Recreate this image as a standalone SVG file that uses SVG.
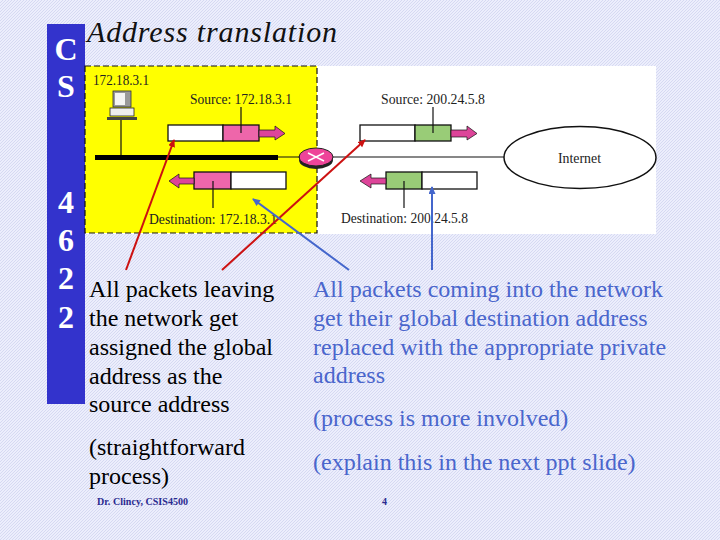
<svg xmlns="http://www.w3.org/2000/svg" width="720" height="540" viewBox="0 0 720 540">
<style>
.s{font-family:"Liberation Serif",serif}
.side{font-size:32px;font-weight:bold;fill:#fff;text-anchor:middle}
.lab{font-size:15px;fill:#222}
.blk{font-size:24px;fill:#000}
.blu{font-size:24px;fill:#4a66cc}
.foot{font-size:10px;font-weight:bold;fill:#2a2a90}
.box{stroke:#111;stroke-width:1.3}
.w{fill:#fff}.p{fill:#ee66aa}.g{fill:#99cc77}
.ln{stroke:#111;stroke-width:1.2;fill:none}
.ar{fill:#dd4499;stroke:#111;stroke-width:.7}
.red{stroke:#cc1111;stroke-width:2;fill:none;marker-end:url(#rh)}
.bl{stroke:#4466cc;stroke-width:2;fill:none;marker-end:url(#bh)}
</style>
<defs>
<pattern id="hatch" width="3" height="3" patternUnits="userSpaceOnUse">
<rect width="3" height="3" fill="#eceefc"/>
<path d="M-1 1L1 -1M0 3L3 0M2 4L4 2" stroke="#d6d9f2" stroke-width="1"/>
</pattern>
<marker id="rh" markerWidth="9" markerHeight="8" refX="7" refY="3.500" orient="auto" markerUnits="userSpaceOnUse"><path d="M0 0L8 3.500L0 7Z" fill="#cc1111"/></marker>
<marker id="bh" markerWidth="9" markerHeight="8" refX="7" refY="3.500" orient="auto" markerUnits="userSpaceOnUse"><path d="M0 0L8 3.500L0 7Z" fill="#4466cc"/></marker>
</defs>
<rect width="720" height="540" fill="url(#hatch)"/>
<g id="sidebar">
<rect x="47" y="24" width="38" height="380" fill="#3333cc"/>
<text class="s side" x="66" y="60">C</text>
<text class="s side" x="66" y="97">S</text>
<text class="s side" x="66" y="213">4</text>
<text class="s side" x="66" y="251">6</text>
<text class="s side" x="66" y="289">2</text>
<text class="s side" x="66" y="328">2</text>
</g>
<text id="title" class="s" x="87" y="42" font-size="30" font-style="italic" textLength="250" fill="#111">Address translation</text>
<g id="panel">
<rect x="85" y="66" width="571" height="168" fill="#fff"/>
<rect x="85" y="66" width="232" height="167" fill="#ffff00" stroke="#111" stroke-width="1.2" stroke-dasharray="6 3"/>
</g>
<g id="host">
<text class="s lab" x="93" y="85" textLength="56" lengthAdjust="spacingAndGlyphs">172.18.3.1</text>
<rect x="113" y="91" width="18" height="16" fill="#999" stroke="#333" stroke-width=".8"/>
<rect x="115" y="93" width="10" height="12" fill="#f4f4f4"/>
<rect x="110" y="108" width="24" height="8" fill="#eee" stroke="#222" stroke-width=".8"/>
<rect x="107" y="117" width="30" height="3" fill="#444"/>
<path class="ln" d="M121 120V155"/>
</g>
<g id="lan"><rect x="95" y="155" width="183" height="5" fill="#000"/></g>
<g id="router">
<ellipse cx="316" cy="160" rx="17" ry="9" fill="#222"/>
<ellipse cx="316" cy="157" rx="17" ry="9" fill="#ee4499" stroke="#222"/>
<path d="M308 153L324 161M308 161L324 153" stroke="#fff" stroke-width="1.5"/>
</g>
<g id="internet">
<ellipse cx="580" cy="157.500" rx="76" ry="31" fill="#fff" stroke="#111" stroke-width="1.5"/>
<text class="s lab" x="558" y="163" textLength="43" lengthAdjust="spacingAndGlyphs">Internet</text>
</g>
<g id="pkt-out-private">
<text class="s lab" x="190" y="104" textLength="102" lengthAdjust="spacingAndGlyphs">Source: 172.18.3.1</text>
<rect class="box w" x="168" y="125" width="55" height="16"/><rect class="box p" x="223" y="125" width="36" height="16"/>
<path class="ar" d="M259 130H275V126L285 133.500L275 140V137H259Z"/>
<path class="ln" d="M241 107V133"/>
</g>
<g id="pkt-in-private">
<rect class="box p" x="194" y="172" width="37" height="17"/><rect class="box w" x="231" y="172" width="55" height="17"/>
<path class="ar" d="M194 178H179V174L169 181L179 188V184H194Z"/>
<path class="ln" d="M213 181V208"/>
<text class="s lab" x="149" y="224" textLength="128" lengthAdjust="spacingAndGlyphs">Destination: 172.18.3.1</text>
</g>
<g id="pkt-out-public">
<text class="s lab" x="381" y="104" textLength="104" lengthAdjust="spacingAndGlyphs">Source: 200.24.5.8</text>
<rect class="box w" x="360" y="125" width="55" height="16"/><rect class="box g" x="415" y="125" width="36" height="16"/>
<path class="ar" d="M451 130H467V126L477 133.500L467 140V137H451Z"/>
<path class="ln" d="M433 107V133"/>
</g>
<g id="pkt-in-public">
<rect class="box g" x="386" y="172" width="36" height="17"/><rect class="box w" x="422" y="172" width="55" height="17"/>
<path class="ar" d="M386 178H371V174L360 181L371 188V184H386Z"/>
<path class="ln" d="M404 181V208"/>
<text class="s lab" x="341" y="223" textLength="127" lengthAdjust="spacingAndGlyphs">Destination: 200.24.5.8</text>
</g>
<g id="connectors">
<path class="ln" d="M278 157H300M333 157H504"/>
<path class="red" d="M126 270L174 140"/>
<path class="red" d="M222 270L365 140"/>
<path class="bl" d="M349 270L253 199"/>
<path class="bl" d="M432 270V187"/>
</g>
<g id="left-text" class="s">
<text class="blk" x="89" y="297">All packets leaving</text>
<text class="blk" x="89" y="326">the network get</text>
<text class="blk" x="89" y="355">assigned the global</text>
<text class="blk" x="89" y="384">address as the</text>
<text class="blk" x="89" y="412">source address</text>
<text class="blk" x="89" y="455">(straightforward</text>
<text class="blk" x="89" y="484">process)</text>
</g>
<g id="right-text" class="s">
<text class="blu" x="313" y="297">All packets coming into the network</text>
<text class="blu" x="313" y="326">get their global destination address</text>
<text class="blu" x="313" y="355">replaced with the appropriate private</text>
<text class="blu" x="313" y="383">address</text>
<text class="blu" x="313" y="426">(process is more involved)</text>
<text class="blu" x="313" y="470">(explain this in the next ppt slide)</text>
</g>
<g id="footer" class="s">
<text class="foot" x="97" y="505" textLength="91">Dr. Clincy, CSIS4500</text>
<text class="foot" x="382" y="505">4</text>
</g>
</svg>
